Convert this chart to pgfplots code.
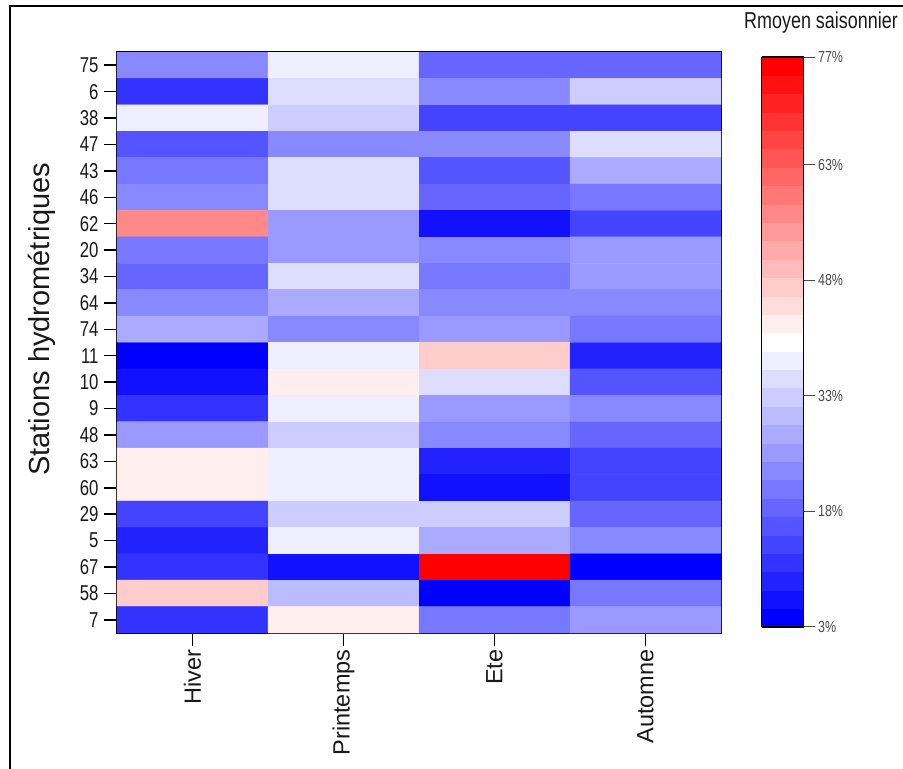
\documentclass[border=0pt]{standalone}
\usepackage{pgfplots}
\pgfplotsset{compat=1.18}
\usepackage{fontspec}
\setmainfont{Liberation Sans}
\newfontfamily\narrowfont{Liberation Sans}[FakeStretch=0.78]
\pgfplotsset{
  colormap={bwr}{rgb255=(0,0,255) rgb255=(255,255,255) rgb255=(255,0,0)},
  colormap={bwrthirty}{samples of colormap=(31 of bwr)},
}
\begin{document}
\begin{tikzpicture}
\path[use as bounding box] (0pt,0pt) rectangle (903pt,-769pt);
\draw[line width=2pt] (10pt,-769pt) -- (10pt,-6pt) -- (903pt,-6pt);
\begin{axis}[
  at={(117pt,-52pt)}, anchor=north west,
  scale only axis, width=604pt, height=581pt,
  /pgf/number format/assume math mode=true,
  colormap name=bwrthirty,
  colormap access=piecewise constant,
  point meta min=3, point meta max=77,
  xmin=-0.5, xmax=3.5, ymin=-0.5, ymax=21.5,
  y dir=reverse,
  enlargelimits=false,
  xtick={0,1,2,3},
  xticklabels={Hiver,Printemps,Ete,Automne},
  ytick={0,...,21},
  yticklabels={75,6,38,47,43,46,62,20,34,64,74,11,10,9,48,63,60,29,5,67,58,7},
  tick align=outside, tick pos=left,
  major tick length=13pt,
  tick style={black, line width=1.5pt},
  axis line style={line width=2.2pt, black},
  xticklabel style={rotate=90, anchor=east, font=\fontsize{23.5}{24}\selectfont, text=black!90},
  yticklabel style={font=\narrowfont\fontsize{21.5}{21.5}\selectfont, text=black!90, xshift=-2pt},
  ylabel={Stations hydrométriques},
  ylabel style={at={(axis description cs:-0.125,0.54)}, anchor=center, rotate=0, font=\fontsize{29}{29}\selectfont, text=black!90},
  colorbar,
  colorbar style={
    at={(parent axis.north east)}, anchor=north west,
    xshift=32pt, yshift=-5pt,
    scale only axis, width=42pt, height=570pt,
    /pgf/number format/assume math mode=true,
    ytick={3,18,33,48,63,77},
    yticklabel={\narrowfont\pgfmathprintnumber[assume math mode=true]{\tick}\%},
    yticklabel style={font=\narrowfont\fontsize{16}{16}\selectfont, text=black!70},
    ytick pos=right, yticklabel pos=right,
    tick align=outside,
    major tick length=11pt,
    tick style={black!70, line width=1pt},
    axis line style={line width=1.3pt, black},
  },
]
\addplot[matrix plot*, mesh/cols=4, mesh/rows=22, point meta=explicit] table[x=x, y=y, meta=c] {
x y c
0 0 23.1
1 0 36.8
2 0 18.7
3 0 18.7
0 1 11.5
1 1 34.7
2 1 22.2
3 1 31.8
0 2 37.6
1 2 31.8
2 2 13.6
3 2 13.6
0 3 15.8
1 3 23.1
2 3 23.8
3 3 34.7
0 4 20.2
1 4 34.7
2 4 15.8
3 4 28.9
0 5 22.2
1 5 34.7
2 5 18.7
3 5 20.9
0 6 56.4
1 6 26.0
2 6 7.1
3 6 12.9
0 7 20.2
1 7 26.0
2 7 23.1
3 7 25.2
0 8 18.0
1 8 34.7
2 8 21.6
3 8 26.0
0 9 22.2
1 9 28.2
2 9 23.8
3 9 23.1
0 10 28.9
1 10 23.1
2 10 26.0
3 10 20.9
0 11 4.2
1 11 37.6
2 11 48.2
3 11 10.0
0 12 6.4
1 12 42.7
2 12 34.7
3 12 15.1
0 13 10.7
1 13 37.6
2 13 26.0
3 13 23.1
0 14 26.0
1 14 31.8
2 14 23.8
3 14 19.4
0 15 42.7
1 15 36.8
2 15 8.6
3 15 13.6
0 16 42.7
1 16 36.8
2 16 6.4
3 16 13.6
0 17 13.6
1 17 33.9
2 17 31.8
3 17 18.7
0 18 9.3
1 18 37.6
2 18 28.9
3 18 23.1
0 19 10.7
1 19 7.1
2 19 77
3 19 4.2
0 20 46.7
1 20 31.0
2 20 4.2
3 20 20.2
0 21 11.5
1 21 42.7
2 21 20.2
3 21 26.0
};
\end{axis}
\node[anchor=base, font=\narrowfont\fontsize{23}{23}\selectfont, text=black!90] at (821pt,-28pt) {Rmoyen saisonnier};
\end{tikzpicture}
\end{document}
